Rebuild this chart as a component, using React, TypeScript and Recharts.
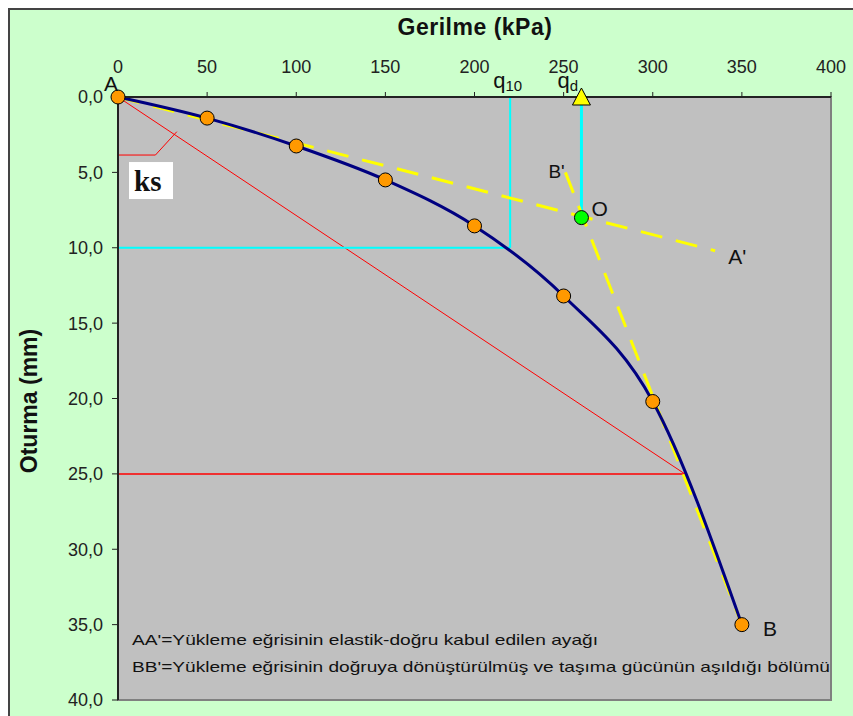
import React from 'react';
import {
  ComposedChart, Line, XAxis, YAxis, CartesianGrid, ReferenceLine, ReferenceDot, ReferenceArea
} from 'recharts';

// load test readings
const stressKPa = [0, 50, 100, 150, 200, 250, 300, 350];
const settlementMm = [0, 1.4, 3.25, 5.5, 8.55, 13.2, 20.2, 35];

const xTicks = [0, 50, 100, 150, 200, 250, 300, 350, 400];
const yTicks = [0, 5, 10, 15, 20, 25, 30, 35, 40];

// construction values
const q10 = 220;
const s10 = 10;
const qd = 260;
const sO = 8;
const ksStress = 318;
const ksSettle = 25;
const aPrimeStress = 335;
const aPrimeSettle = 10.2;
const bPrimeStress = 251;
const bPrimeSettle = 5.0;
const arcSettle = 3.85;

const noteAA = "AA'=Yükleme eğrisinin elastik-doğru kabul edilen ayağı";
const noteBB = "BB'=Yükleme eğrisinin doğruya dönüştürülmüş ve taşıma gücünün aşıldığı bölümü";

const data = stressKPa.map((x, i) => ({ x, y: settlementMm[i] }));

const FONT = '"Liberation Sans", Arial, sans-serif';

const textShape = (label: string, dx: number, dy: number, size = 21, anchor = 'start') => (p: any) => (
  <text x={p.cx + dx} y={p.cy + dy} fontSize={size} fontFamily={FONT} fill="#111" textAnchor={anchor}>
    {label}
  </text>
);

const qShape = (sub: string, dx: number, dy: number) => (p: any) => (
  <text x={p.cx + dx} y={p.cy + dy} fontFamily={FONT} fill="#111">
    <tspan fontSize={22}>q</tspan>
    <tspan fontSize={15} dy={3}>{sub}</tspan>
  </text>
);

const triangle = (p: any) => (
  <polygon
    points={`${p.cx},${p.cy - 9} ${p.cx - 9},${p.cy + 8} ${p.cx + 9},${p.cy + 8}`}
    fill="#FFFF00" stroke="#000" strokeWidth={1}
  />
);

const ksBox = (p: any) => (
  <g>
    <rect x={p.cx + 11} y={p.cy + 7} width={44} height={37} fill="#fff" />
    <text x={p.cx + 16} y={p.cy + 36} fontSize={29} fontWeight="bold" fontFamily='"Liberation Serif", "Times New Roman", serif' fill="#111">ks</text>
  </g>
);

const notes = (p: any) => (
  <g fontFamily={FONT} fontSize={15} fill="#111">
    <text x={p.cx + 14} y={p.cy - 55} textLength={466} lengthAdjust="spacingAndGlyphs">{noteAA}</text>
    <text x={p.cx + 14} y={p.cy - 28} textLength={698} lengthAdjust="spacingAndGlyphs">{noteBB}</text>
  </g>
);

const yellow = { stroke: '#FFFF00', strokeWidth: 3, strokeDasharray: '22 14' };
const tickStyle = { fill: '#222', fontSize: 18, fontFamily: FONT };

export default function App() {
  return (
    <div style={{ position: 'absolute', left: 0, top: 0, width: 853, height: 716, background: '#fff', overflow: 'hidden' }}>
      <div style={{ position: 'absolute', left: 8, top: 8, width: 860, height: 720, background: '#CCFFCC', borderLeft: '2px solid #444', borderTop: '2px solid #444' }} />
      <div style={{ position: 'absolute', left: 0, width: 950, top: 14, textAlign: 'center', fontFamily: FONT, fontWeight: 'bold', fontSize: 23, letterSpacing: 0.5, color: '#111' }}>
        Gerilme (kPa)
      </div>
      <div style={{ position: 'absolute', left: 29, top: 401, transform: 'translate(-50%, -50%) rotate(-90deg)', whiteSpace: 'nowrap', fontFamily: FONT, fontWeight: 'bold', fontSize: 23, color: '#111' }}>
        Oturma (mm)
      </div>
      <div style={{ position: 'absolute', left: 0, top: 0 }}>
        <ComposedChart width={853} height={716} data={data} margin={{ top: 67, right: 22, bottom: 16, left: 58 }}>
          <CartesianGrid fill="#C0C0C0" horizontal={false} vertical={false} />
          <ReferenceArea x1={0} x2={400} y1={0} y2={40} fill="none" stroke="#808080" strokeWidth={2} />
          <XAxis
            type="number" dataKey="x" orientation="top" domain={[0, 400]} ticks={xTicks} height={30}
            tick={tickStyle} tickSize={5} tickMargin={19}
            axisLine={{ stroke: '#222', strokeWidth: 2 }} tickLine={{ stroke: '#222' }}
          />
          <YAxis
            type="number" dataKey="y" reversed domain={[0, 40]} ticks={yTicks} width={60}
            tickFormatter={(v) => Number(v).toFixed(1).replace('.', ',')}
            tick={tickStyle} tickSize={6} tickMargin={9}
            axisLine={{ stroke: '#222', strokeWidth: 2 }} tickLine={{ stroke: '#222' }}
          />
          {/* ks construction */}
          <ReferenceLine segment={[{ x: 0, y: 0 }, { x: ksStress, y: ksSettle }]} stroke="#FF0000" strokeWidth={1} />
          <ReferenceLine segment={[{ x: 0, y: ksSettle }, { x: ksStress, y: ksSettle }]} stroke="#FF0000" strokeWidth={1.5} />
          <ReferenceLine segment={[{ x: 0, y: arcSettle }, { x: 21, y: arcSettle }]} stroke="#FF0000" strokeWidth={1} />
          <ReferenceLine segment={[{ x: 21, y: arcSettle }, { x: 33, y: 2.3 }]} stroke="#FF0000" strokeWidth={1} />
          {/* q10 */}
          <ReferenceLine segment={[{ x: q10, y: 0 }, { x: q10, y: s10 }]} stroke="#00FFFF" strokeWidth={2} />
          <ReferenceLine segment={[{ x: 0, y: s10 }, { x: q10, y: s10 }]} stroke="#00FFFF" strokeWidth={2} />
          {/* qd */}
          <ReferenceLine segment={[{ x: qd, y: 0 }, { x: qd, y: sO }]} stroke="#00FFFF" strokeWidth={3} />
          {/* tangents */}
          <ReferenceLine segment={[{ x: 0, y: 0 }, { x: aPrimeStress, y: aPrimeSettle }]} {...yellow} />
          <ReferenceLine segment={[{ x: bPrimeStress, y: bPrimeSettle }, { x: 350, y: 35 }]} {...yellow} />
          <Line
            type="monotone" dataKey="y" stroke="#000080" strokeWidth={3} isAnimationActive={false}
            dot={{ r: 7, fill: '#FF9900', stroke: '#000', strokeWidth: 1 }}
          />
          <ReferenceDot x={qd} y={sO} r={7} fill="#00FF00" stroke="#000" strokeWidth={1} />
          <ReferenceDot x={qd} y={0} shape={triangle} />
          <ReferenceDot x={0} y={0} shape={textShape('A', -7, -6, 21, 'middle')} />
          <ReferenceDot x={350} y={35} shape={textShape('B', 21, 11)} />
          <ReferenceDot x={qd} y={sO} shape={textShape('O', 10, -2)} />
          <ReferenceDot x={aPrimeStress} y={aPrimeSettle} shape={textShape("A'", 13, 13)} />
          <ReferenceDot x={bPrimeStress} y={bPrimeSettle} shape={textShape("B'", -17, 6, 19)} />
          <ReferenceDot x={q10} y={0} shape={qShape('10', -17, -9)} />
          <ReferenceDot x={qd} y={0} shape={qShape('d', -24, -9)} />
          <ReferenceDot x={0} y={arcSettle} shape={ksBox} />
          <ReferenceDot x={0} y={40} shape={notes} />
        </ComposedChart>
      </div>
    </div>
  );
}
